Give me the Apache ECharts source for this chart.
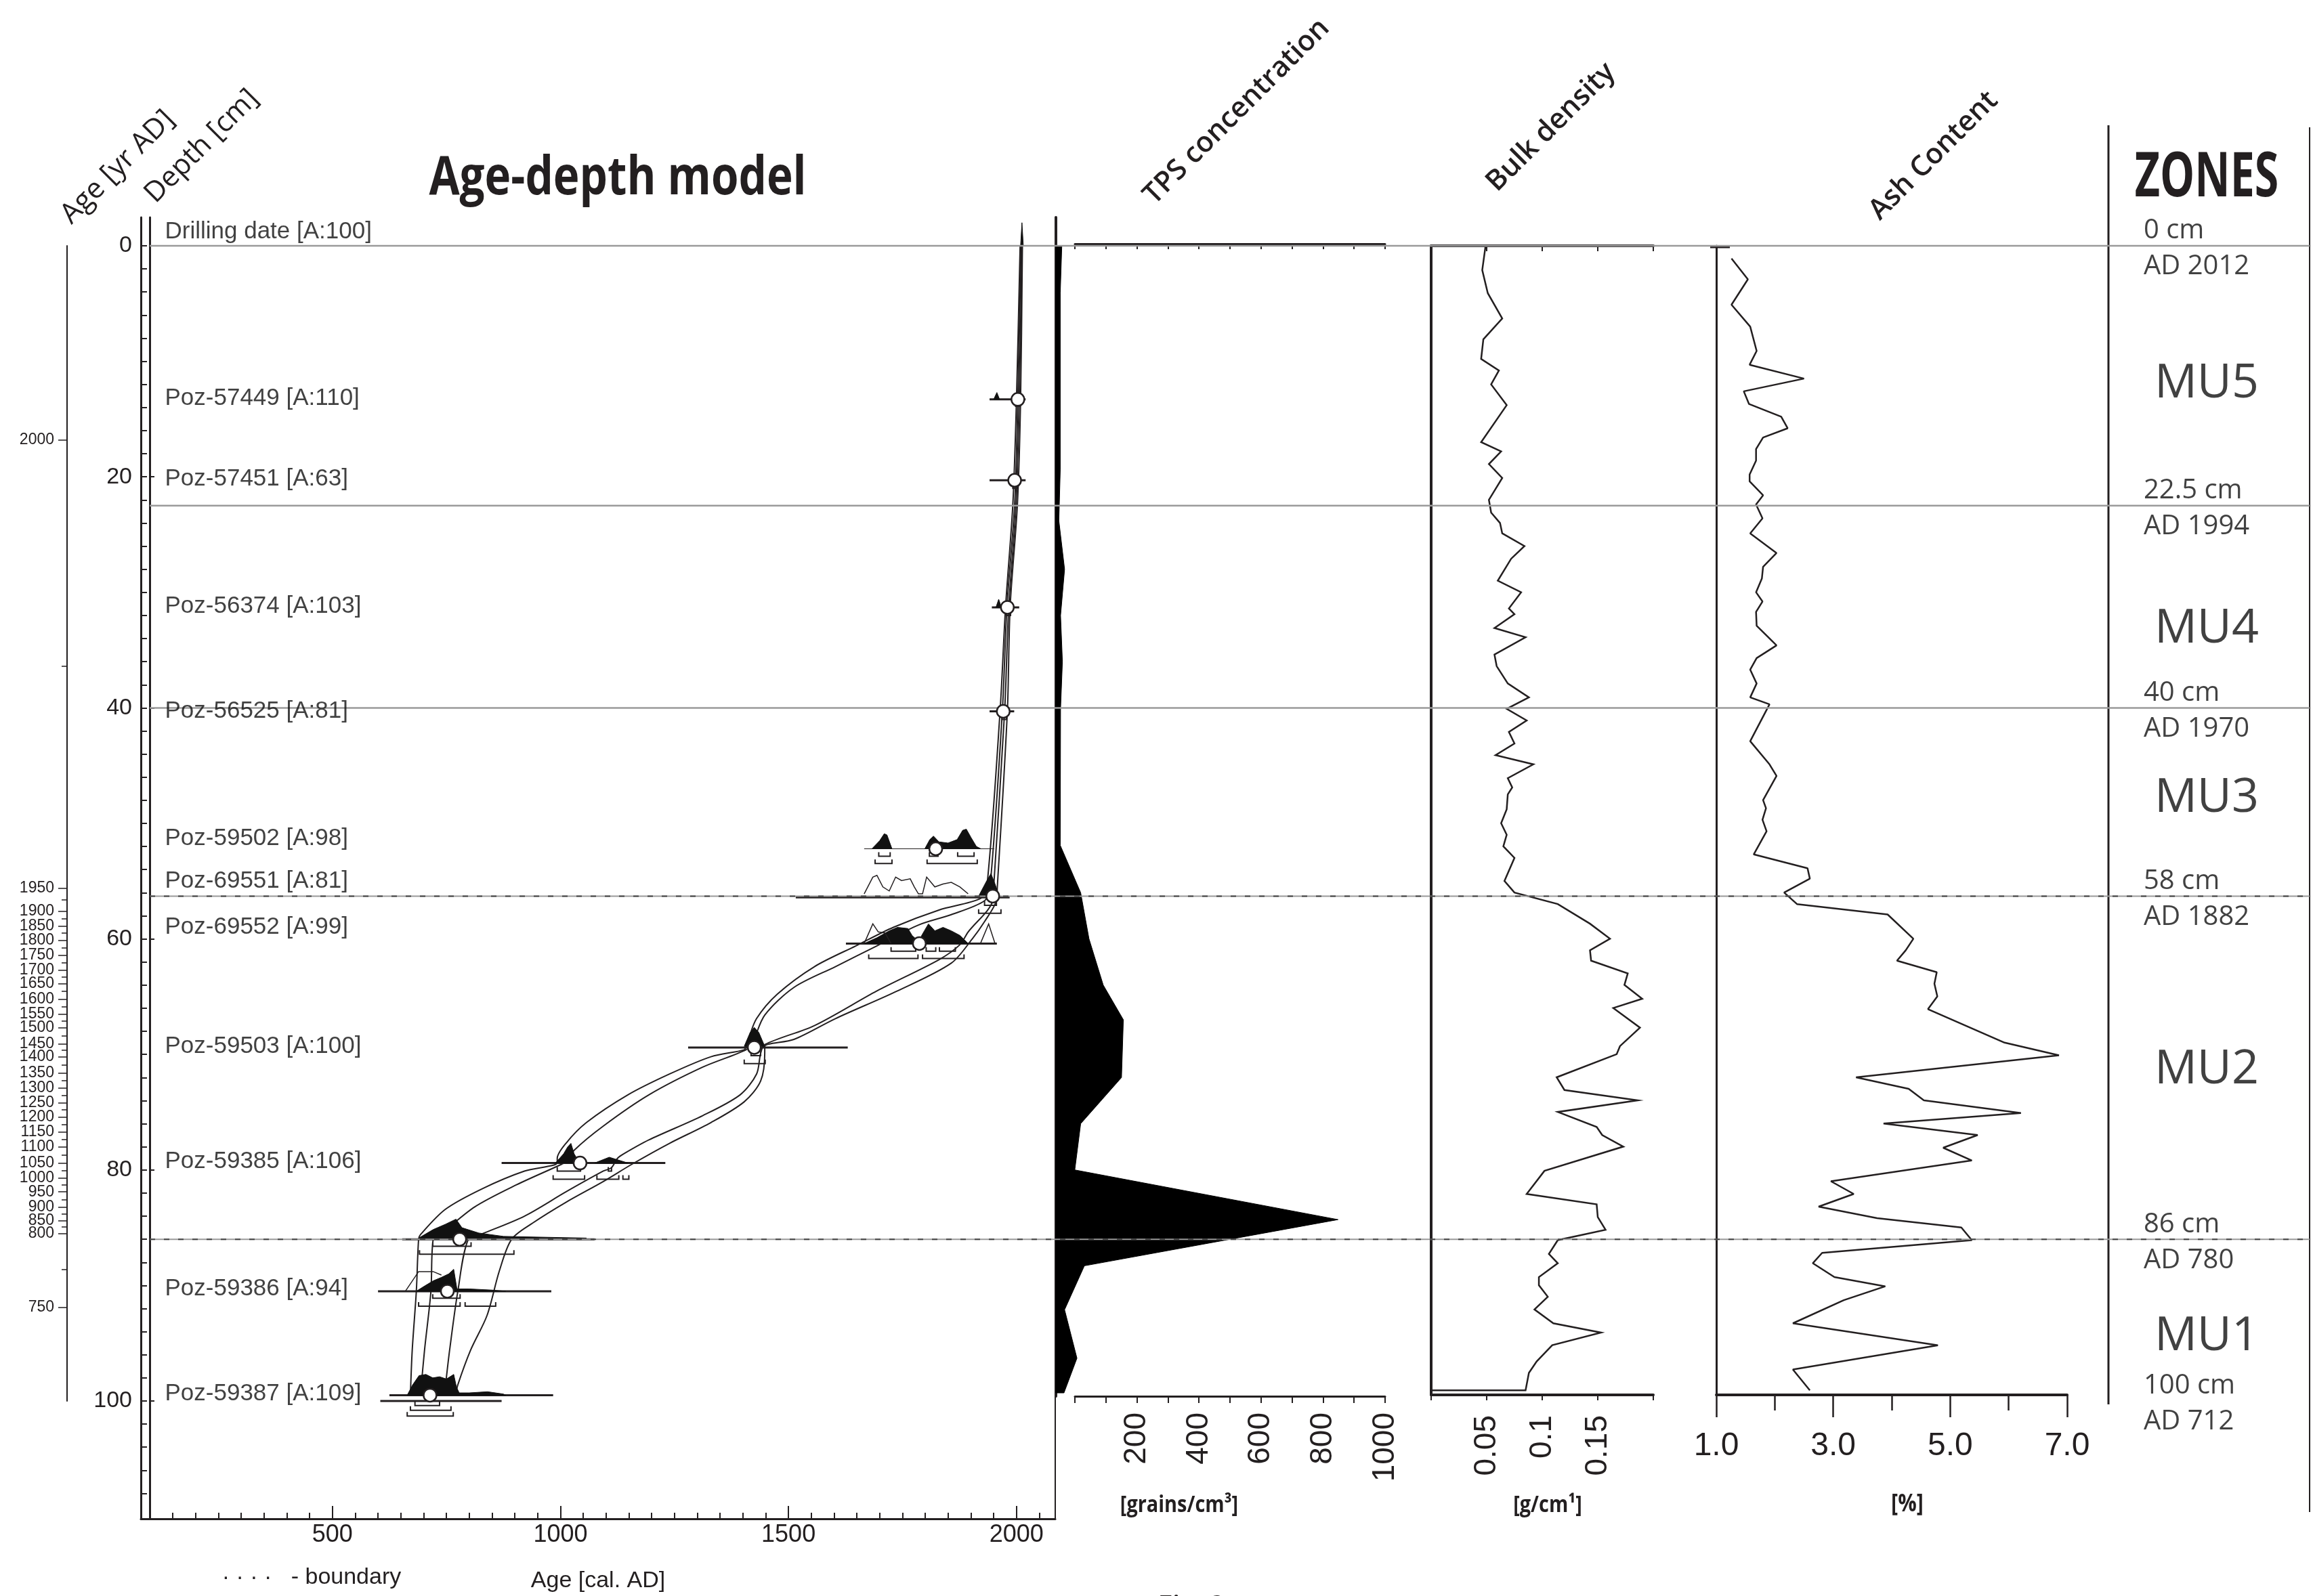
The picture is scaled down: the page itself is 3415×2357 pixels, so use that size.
<!DOCTYPE html>
<html><head><meta charset="utf-8">
<script src="https://cdn.jsdelivr.net/npm/echarts@6/dist/echarts.min.js"></script>
<style>html,body{margin:0;padding:0;background:#fff}#c{width:3415px;height:2357px}</style>
</head><body><div id="c"></div>
<script>
// ================= DATA =================
const depthTickLabels = [0, 20, 40, 60, 80, 100];
const ageTickLabels = [500, 1000, 1500, 2000];

// secondary age scale (Age [yr AD]) : label -> depth position
const leftAgeLabels = [2000,1950,1900,1850,1800,1750,1700,1650,1600,1550,1500,1450,1400,1350,1300,1250,1200,1150,1100,1050,1000,950,900,850,800,750];
const leftAgeDepths = [16.8,55.6,57.6,58.9,60.1,61.4,62.7,63.9,65.2,66.5,67.7,69.1,70.2,71.6,72.9,74.2,75.4,76.7,78.0,79.4,80.7,81.9,83.2,84.4,85.5,91.9];
const leftAgeMinorDepths = [36.4,56.6,58.25,59.5,60.75,62.05,63.3,64.55,65.85,67.1,68.4,69.65,70.9,72.25,73.55,74.8,76.05,77.35,78.7,80.05,81.3,82.55,83.8,84.95,88.6];

// sample labels
const sampleNames = ['Drilling date [A:100]','Poz-57449 [A:110]','Poz-57451 [A:63]','Poz-56374 [A:103]','Poz-56525 [A:81]','Poz-59502 [A:98]','Poz-69551 [A:81]','Poz-69552 [A:99]','Poz-59503 [A:100]','Poz-59385 [A:106]','Poz-59386 [A:94]','Poz-59387 [A:109]'];
const sampleLabelDepths = [-1.2, 13.2, 20.2, 31.2, 40.3, 51.3, 55.0, 59.0, 69.3, 79.3, 90.3, 99.4];

// modelled dates (circles)
const dateAges   = [2003, 1996, 1980, 1971, 1823, 1948, 1787, 1425, 1043, 779, 752, 714];
const dateDepths = [13.3, 20.3, 31.3, 40.3, 52.2, 56.3, 60.4, 69.4, 79.4, 86.0, 90.5, 99.5];

// calibrated ranges (horizontal bars)
const rangeFrom  = [1941, 1941, 1946, 1941, 1516, 1626, 1280, 871, 653, 600, 625, 605];
const rangeTo    = [2020, 2020, 2006, 1995, 1985, 1957, 1630, 1230, 1075, 980, 984, 871];
const rangeDepth = [13.3, 20.3, 31.3, 40.3, 56.4, 60.4, 69.4, 79.4, 86.0, 90.5, 99.5, 100.0];
const thinRangeFrom = [1666], thinRangeTo = [1951], thinRangeDepth = [52.2];

// probability brackets
const bracketFrom  = [1998,1992,1978,1968,1698,1809,1871,1690,1804,1930,1917,1725,1802,1831,1676,1794,1418,1403,993,1105,984,1080,1137,720,691,720,689,791,681,671,664];
const bracketTo    = [2008,2003,1987,1978,1723,1828,1907,1727,1914,1956,1966,1779,1823,1866,1784,1885,1439,1449,1044,1112,1053,1128,1150,804,898,780,780,858,735,760,765];
const bracketDepth = [13.9,21.0,32.0,41.0,52.84,52.84,52.84,53.48,53.48,57.1,57.78,61.07,61.07,61.07,61.7,61.7,70.1,70.8,80.1,80.1,80.8,80.8,80.8,86.6,87.3,91.1,91.8,91.8,100.4,100.8,101.3];

// probability distributions (filled) [age, depth]
const humps = [
  [[2009,0],[2012,-2.0],[2015,0]],
  [[1950,13.3],[1957,12.7],[1963,13.3]],
  [[1955,31.3],[1961,30.6],[1967,31.3]],
  [[1683,52.2],[1700,51.5],[1710,50.9],[1716,51.0],[1727,52.2]],
  [[1799,52.2],[1810,51.4],[1818,51.1],[1830,51.6],[1850,51.7],[1870,51.4],[1882,50.6],[1890,50.5],[1900,51.2],[1912,52.0],[1922,52.2]],
  [[1917,56.3],[1935,54.95],[1944,54.35],[1953,55.25],[1962,56.3]],
  [[1666,60.4],[1694,59.9],[1721,59.3],[1739,59.0],[1762,59.1],[1771,59.7],[1785,60.2],[1798,59.3],[1807,58.7],[1821,59.3],[1839,59.0],[1857,59.3],[1876,59.7],[1894,60.4]],
  [[1403,69.3],[1416,68.1],[1425,67.66],[1435,68.1],[1448,69.3]],
  [[989,79.4],[1007,78.6],[1016,78.0],[1023,77.7],[1030,78.6],[1039,79.2],[1048,79.4]],
  [[1075,79.4],[1107,78.9],[1148,79.4]],
  [[689,85.9],[721,85.16],[748,84.7],[771,84.26],[784,85.0],[821,85.46],[875,85.75],[1057,85.9]],
  [[684,90.5],[700,90.1],[721,89.6],[739,89.3],[755,89.0],[766,88.6],[773,90.3],[800,90.3],[850,90.4],[880,90.5]],
  [[664,99.5],[676,98.6],[690,97.8],[705,97.7],[720,98.0],[735,97.9],[750,98.1],[766,97.7],[772,98.8],[778,99.3],[800,99.3],[840,99.2],[875,99.4],[880,99.5]]
];
// unfilled distribution outlines
const outlines = [
  [[1666,56.1],[1685,54.65],[1694,54.5],[1707,55.5],[1721,55.85],[1735,54.65],[1748,54.95],[1767,54.8],[1776,55.5],[1785,56.1],[1794,56.1],[1803,54.65],[1821,55.5],[1839,55.25],[1857,55.1],[1876,55.5],[1894,56.1]],
  [[1666,60.4],[1685,58.7],[1697,59.4],[1712,59.5],[1725,60.4]],
  [[1921,60.4],[1939,58.7],[1953,60.4]],
  [[660,90.5],[689,88.8],[721,88.8],[739,89.1]]
];

// age-depth model envelope curves [age, depth]
const curve1 = [[2008,0],[2000,13.3],[1992,22.4],[1976,31.3],[1964,40.3],[1935,55.5],[1921,56.5],[1830,57.5],[1730,59.0],[1648,60.6],[1557,62.4],[1475,64.8],[1430,66.9],[1412,68.7],[1407,69.3],[1403,69.6],[1330,70.2],[1239,71.7],[1148,73.5],[1057,75.9],[1012,77.7],[993,79.0],[993,79.4],[921,80.1],[830,81.6],[748,83.4],[693,85.6],[689,86.0],[684,90.5],[675,95.6],[671,99.5]];
const curve2 = [[2010,0],[2003,13.3],[1996,22.4],[1979,31.3],[1969,40.3],[1942,55.5],[1930,56.7],[1857,57.9],[1785,58.8],[1694,60.6],[1603,62.4],[1512,64.2],[1448,66.6],[1421,69.0],[1407,69.6],[1312,71.1],[1194,73.5],[1094,76.2],[1030,78.3],[1016,79.2],[1003,79.5],[903,81.3],[812,83.2],[739,85.5],[721,86.0],[716,90.5],[702,95.6],[693,99.5]];
const curve3 = [[2012,0],[2006,13.3],[1999,22.4],[1983,31.3],[1974,40.3],[1950,55.5],[1948,56.7],[1894,59.4],[1876,60.5],[1830,61.8],[1694,64.5],[1557,67.5],[1448,69.15],[1439,69.9],[1430,71.7],[1394,73.5],[1312,75.3],[1194,77.4],[1139,78.6],[1125,79.0],[1112,79.8],[1094,80.1],[1012,81.9],[921,84.0],[830,85.5],[798,86.0],[775,90.5],[757,95.6],[748,98.6],[745,99.5]];
const curve4 = [[2013,0],[2009,13.3],[2002,22.4],[1986,31.3],[1980,40.3],[1958,55.5],[1955,56.8],[1930,58.5],[1903,60.0],[1857,62.1],[1739,64.5],[1603,66.9],[1512,68.7],[1448,69.3],[1448,69.9],[1439,72.3],[1403,74.1],[1330,75.9],[1239,77.7],[1157,79.5],[1094,81.0],[1012,82.8],[939,84.6],[893,86.0],[866,88.75],[839,92.6],[803,95.6],[775,98.6],[770,99.5]];

// TPS concentration [grains/cm3]
const tpsDepths = [0, 4.1, 19.4, 23.8, 28.0, 32.0, 36.0, 40.1, 51.9, 56.0, 60.0, 64.0, 67.0, 72.0, 76.0, 80.0, 84.3, 88.3, 92.1, 96.3, 99.3];
const tpsValues = [19, 14, 14, 9.5, 28, 15, 21, 15, 14, 80, 107, 153, 218, 212, 80, 61, 912, 92, 28, 68, 26];

// Bulk density [g/cm]
const bulkDepths = [0,2.1,4.1,6.3,8.1,9.8,10.8,12.0,13.8,17.0,17.8,18.9,20.1,22.0,23.1,24.0,24.9,26.0,27.1,29.0,30.0,31.4,31.9,33.1,33.9,35.4,36.4,37.9,39.1,40.1,41.1,42.1,43.1,44.1,44.9,46.1,46.9,47.5,48.8,50.0,51.0,52.0,53.0,55.0,56.0,57.0,58.7,60.0,61.0,61.9,63.0,64.0,65.2,66.0,67.7,69.3,70.0,72.0,73.1,74.0,75.0,76.3,77.0,78.0,80.1,82.1,83.0,84.1,85.2,86.1,87.3,88.1,89.3,90.0,91.0,92.1,93.3,94.1,95.2,96.6,97.6,99.1];
const bulkValues = [0.049,0.046,0.051,0.064,0.047,0.045,0.061,0.054,0.068,0.045,0.063,0.052,0.064,0.052,0.054,0.062,0.064,0.084,0.072,0.060,0.081,0.070,0.075,0.057,0.085,0.057,0.059,0.069,0.088,0.068,0.086,0.070,0.075,0.058,0.092,0.069,0.073,0.069,0.068,0.063,0.068,0.065,0.075,0.066,0.075,0.114,0.143,0.161,0.143,0.144,0.177,0.174,0.190,0.164,0.188,0.170,0.167,0.113,0.120,0.186,0.114,0.149,0.154,0.173,0.102,0.086,0.149,0.150,0.157,0.114,0.106,0.114,0.097,0.097,0.105,0.093,0.110,0.153,0.109,0.095,0.088,0.085];

// Ash content [%]
const ashDepths = [1.1,2.9,5.1,7.0,9.1,10.3,11.5,12.6,13.7,14.8,15.8,16.6,17.6,18.6,19.8,20.4,21.6,22.4,23.6,24.9,26.6,27.8,28.8,30.0,30.8,31.7,32.9,33.9,34.6,35.7,36.7,37.9,39.1,39.7,42.9,44.9,45.9,48.0,48.7,49.7,50.7,52.7,53.9,54.8,56.0,57.0,57.9,60.0,61.0,61.9,62.9,63.9,65.0,66.1,69.0,70.1,72.0,73.0,74.0,75.1,76.0,77.0,78.1,79.2,81.0,82.1,83.2,84.2,85.0,86.1,87.2,88.1,89.3,90.1,91.3,93.3,95.2,97.3,99.1];
const ashValues = [1.26,1.54,1.26,1.58,1.69,1.57,2.50,1.47,1.56,2.11,2.22,1.80,1.68,1.68,1.57,1.57,1.80,1.68,1.79,1.58,2.03,1.80,1.78,1.68,1.79,1.68,1.69,1.89,2.03,1.69,1.58,1.69,1.58,1.91,1.58,1.91,2.03,1.80,1.85,1.79,1.86,1.64,2.56,2.60,2.16,2.38,3.93,4.37,4.24,4.09,4.77,4.73,4.78,4.62,5.93,6.86,3.39,4.29,4.55,6.21,3.86,5.47,4.88,5.37,2.96,3.35,2.75,3.75,5.19,5.37,2.81,2.65,3.02,3.89,3.18,2.31,4.79,2.31,2.60];

// zones
const zoneNames = ['MU5','MU4','MU3','MU2','MU1'];
const zoneNameDepths = [11.6, 32.8, 47.5, 71.0, 94.1];
const boundaryDepths = [0, 22.5, 40, 56.3, 86, 100];
const boundaryCm = ['0 cm','22.5 cm','40 cm','58 cm','86 cm','100 cm'];
const boundaryAD = ['AD 2012','AD 1994','AD 1970','AD 1882','AD 780','AD 712'];
const solidLines = [0, 22.5, 40];
const dashedLines = [56.3, 86];

// ================= LAYOUT / STYLE =================
const T = '#231f20';
const ARIAL = "'Liberation Sans', Arial, sans-serif";
const NARROW = "'Liberation Sans Narrow', 'Liberation Sans', Arial, sans-serif";
const MYR = "'Open Sans', 'Noto Sans', sans-serif";
const AGE_MIN = 80, AGE_MAX = 2085;
const D_MIN = -2.46, D_MAX = 110.2;

const ageMinorTicks = []; for (let a = 100; a <= 2050; a += 50) ageMinorTicks.push(a);
const depthMinorTicks = []; for (let d = 0; d <= 108; d += 2) depthMinorTicks.push(d);

const noSplit = {show:false};
function lineOnly(w){ return {show:true, onZero:false, lineStyle:{color:T, width:w}}; }
function hiddenX(grid, min, max){ return {type:'value', gridIndex:grid, min, max, show:false, splitLine:noSplit}; }

const grids = [
  {left:208, top:321, width:1350, height:1922},   // 0 age-depth
  {left:99, top:363, width:20, height:1706},      // 1 far-left age scale
  {left:1559, top:321, width:486, height:1741},   // 2 TPS data
  {left:1587, top:360, width:458, height:1702},   // 3 TPS axes
  {left:2113, top:363, width:328, height:1697},   // 4 bulk density
  {left:2534, top:363, width:518, height:1697},   // 5 ash
  {left:221, top:363, width:3189, height:1706}    // 6 overlay (boundaries, zones)
].map(g => Object.assign({containLabel:false, outerBoundsMode:'none', show:false}, g));

const xAxes = [
  {type:'value', gridIndex:0, position:'bottom', min:AGE_MIN, max:AGE_MAX, axisLine:lineOnly(3),
   axisTick:{show:true, inside:true, length:9, customValues:ageMinorTicks, lineStyle:{color:T,width:2}},
   axisLabel:{show:true, customValues:ageTickLabels, margin:6, color:T, fontFamily:ARIAL, fontSize:36, formatter:v => String(v)},
   splitLine:noSplit},
  {type:'value', gridIndex:0, position:'bottom', min:AGE_MIN, max:AGE_MAX, axisLine:{show:false, onZero:false},
   axisTick:{show:true, inside:true, length:19, customValues:ageTickLabels, lineStyle:{color:T,width:2}},
   axisLabel:{show:false}, splitLine:noSplit},
  hiddenX(1, 0, 1),
  hiddenX(2, 0, 1064),
  {type:'value', gridIndex:3, position:'bottom', min:0, max:1000, interval:100, axisLine:lineOnly(3),
   axisTick:{show:true, inside:false, length:10, lineStyle:{color:T,width:2}},
   axisLabel:{show:true, rotate:90, margin:24, color:T, fontFamily:NARROW, fontSize:46,
     formatter:v => (v > 0 && v % 200 === 0) ? String(v) : ''},
   splitLine:noSplit},
  {type:'value', gridIndex:3, position:'top', min:0, max:1000, interval:100, axisLine:lineOnly(3),
   axisTick:{show:true, inside:true, length:8, lineStyle:{color:T,width:2}}, axisLabel:{show:false}, splitLine:noSplit},
  {type:'value', gridIndex:4, position:'bottom', min:0, max:0.2, interval:0.05, axisLine:lineOnly(4),
   axisTick:{show:true, inside:false, length:8, lineStyle:{color:T,width:2}},
   axisLabel:{show:true, rotate:90, margin:30, color:T, fontFamily:NARROW, fontSize:46,
     formatter:v => { const r = Math.round(v*100); return r===5?'0.05':r===10?'0.1':r===15?'0.15':''; }},
   splitLine:noSplit},
  {type:'value', gridIndex:4, position:'top', min:0, max:0.2, interval:0.05, axisLine:lineOnly(4),
   axisTick:{show:true, inside:true, length:8, lineStyle:{color:T,width:2}}, axisLabel:{show:false}, splitLine:noSplit},
  {type:'value', gridIndex:5, position:'bottom', min:1, max:7, interval:2, axisLine:lineOnly(4),
   axisTick:{show:true, inside:false, length:33, lineStyle:{color:T,width:2.5}},
   axisLabel:{show:true, margin:52, color:T, fontFamily:NARROW, fontSize:48, formatter:v => v.toFixed(1)},
   splitLine:noSplit},
  {type:'value', gridIndex:5, position:'bottom', min:1, max:7, interval:1, axisLine:{show:false, onZero:false},
   axisTick:{show:true, inside:false, length:23, lineStyle:{color:T,width:2.5}}, axisLabel:{show:false}, splitLine:noSplit},
  hiddenX(6, 0, 1)
];

const yAxes = [
  {type:'value', gridIndex:0, position:'left', offset:-13, inverse:true, min:D_MIN, max:D_MAX, axisLine:lineOnly(3),
   axisTick:{show:true, inside:true, length:7, customValues:depthTickLabels, lineStyle:{color:T,width:2}},
   axisLabel:{show:true, customValues:depthTickLabels, margin:26, color:T, fontFamily:ARIAL, fontSize:34},
   splitLine:noSplit},
  {type:'value', gridIndex:0, position:'left', offset:0, inverse:true, min:D_MIN, max:D_MAX, axisLine:lineOnly(3),
   axisTick:{show:true, inside:true, length:9, customValues:depthMinorTicks, lineStyle:{color:T,width:2}},
   axisLabel:{show:false}, splitLine:noSplit},
  {type:'value', gridIndex:0, position:'right', inverse:true, min:D_MIN, max:D_MAX, axisLine:lineOnly(2),
   axisTick:{show:false}, axisLabel:{show:false}, splitLine:noSplit},
  {type:'value', gridIndex:1, position:'left', inverse:true, min:0, max:100, axisLine:lineOnly(2),
   axisTick:{show:true, inside:false, length:13, customValues:leftAgeDepths, lineStyle:{color:T,width:1.5}},
   axisLabel:{show:true, customValues:leftAgeDepths, margin:19, color:T, fontFamily:ARIAL, fontSize:23, hideOverlap:false,
     formatter:v => { const i = leftAgeDepths.findIndex(d => Math.abs(d - v) < 1e-6); return i >= 0 ? String(leftAgeLabels[i]) : ''; }},
   splitLine:noSplit},
  {type:'value', gridIndex:1, position:'left', inverse:true, min:0, max:100, axisLine:{show:false, onZero:false},
   axisTick:{show:true, inside:false, length:8, customValues:leftAgeMinorDepths, lineStyle:{color:T,width:1.5}},
   axisLabel:{show:false}, splitLine:noSplit},
  {type:'value', gridIndex:2, position:'left', inverse:true, min:D_MIN, max:D_MIN + 1741/17.06, axisLine:lineOnly(4),
   axisTick:{show:false}, axisLabel:{show:false}, splitLine:noSplit},
  {type:'value', gridIndex:3, min:0, max:1, show:false, splitLine:noSplit},
  {type:'value', gridIndex:4, position:'left', inverse:true, min:0, max:99.5, axisLine:lineOnly(4),
   axisTick:{show:false}, axisLabel:{show:false}, splitLine:noSplit},
  {type:'value', gridIndex:5, position:'left', inverse:true, min:0, max:99.5, axisLine:lineOnly(3),
   axisTick:{show:false}, axisLabel:{show:false}, splitLine:noSplit},
  {type:'value', gridIndex:6, inverse:true, min:0, max:100, show:false, splitLine:noSplit}
];

function polySeries(list, xi, yi, style, z){
  return {type:'custom', coordinateSystem:'cartesian2d', xAxisIndex:xi, yAxisIndex:yi, silent:true, z:z,
    data: list.map(p => p[0]), encode:{x:0, y:1},
    renderItem:(params, api) => {
      const pts = list[params.dataIndex].map(p => api.coord(p));
      return {type:'polygon', shape:{points:pts}, style:style};
    }};
}
function polyLineSeries(list, xi, yi, style, z){
  return {type:'custom', coordinateSystem:'cartesian2d', xAxisIndex:xi, yAxisIndex:yi, silent:true, z:z,
    data: list.map(p => p[0]), encode:{x:0, y:1},
    renderItem:(params, api) => {
      const pts = list[params.dataIndex].map(p => api.coord(p));
      return {type:'polyline', shape:{points:pts}, style:style};
    }};
}
function rangeSeries(from, to, dep, width, z){
  return {type:'custom', coordinateSystem:'cartesian2d', xAxisIndex:0, yAxisIndex:0, silent:true, z:z,
    data: from.map((a,i) => [a, dep[i]]), encode:{x:0, y:1},
    renderItem:(params, api) => {
      const i = params.dataIndex;
      const p0 = api.coord([from[i], dep[i]]), p1 = api.coord([to[i], dep[i]]);
      return {type:'line', shape:{x1:p0[0], y1:p0[1], x2:p1[0], y2:p1[1]}, style:{stroke:T, lineWidth:width}};
    }};
}

const series = [];
// envelope
[curve1, curve2, curve3, curve4].forEach(c => series.push({type:'line', xAxisIndex:0, yAxisIndex:0, data:c, smooth:0.3,
  symbol:'none', silent:true, lineStyle:{color:T, width:2}, z:3}));
// ranges
series.push(rangeSeries(rangeFrom, rangeTo, rangeDepth, 3, 4));
series.push(rangeSeries(thinRangeFrom, thinRangeTo, thinRangeDepth, 1, 4));
// brackets
series.push({type:'custom', coordinateSystem:'cartesian2d', xAxisIndex:0, yAxisIndex:0, silent:true, z:4,
  data: bracketFrom.map((a,i) => [a, bracketDepth[i]]), encode:{x:0, y:1},
  renderItem:(params, api) => {
    const i = params.dataIndex;
    const p0 = api.coord([bracketFrom[i], bracketDepth[i]]), p1 = api.coord([bracketTo[i], bracketDepth[i]]);
    return {type:'polyline', shape:{points:[[p0[0], p0[1]-6],[p0[0], p0[1]],[p1[0], p1[1]],[p1[0], p1[1]-6]]},
      style:{stroke:T, lineWidth:2, fill:null}};
  }});
// distributions
series.push(polySeries(humps, 0, 0, {fill:'#111', stroke:'#111', lineWidth:1}, 5));
series.push(polyLineSeries(outlines, 0, 0, {fill:null, stroke:T, lineWidth:1.5}, 5));
// date circles
series.push({type:'scatter', xAxisIndex:0, yAxisIndex:0, silent:true, z:20,
  data: dateAges.map((a,i) => [a, dateDepths[i]]), symbol:'circle', symbolSize:19,
  itemStyle:{color:'#fff', borderColor:T, borderWidth:2.5, opacity:1}});
// sample labels
series.push({type:'scatter', xAxisIndex:0, yAxisIndex:0, silent:true, z:20,
  data: sampleLabelDepths.map(d => [AGE_MIN, d]), symbolSize:1, itemStyle:{color:'rgba(0,0,0,0)'},
  label:{show:true, position:'right', distance:35, formatter:p => sampleNames[p.dataIndex], color:'#111', fontFamily:ARIAL, fontSize:35}});
// TPS
series.push({type:'custom', coordinateSystem:'cartesian2d', xAxisIndex:3, yAxisIndex:5, silent:true, z:2,
  data: tpsValues.map((v,i) => [v, tpsDepths[i]]), encode:{x:0, y:1},
  renderItem:(params, api) => {
    if (params.dataIndex !== 0) return null;
    const pts = [[0, tpsDepths[0]]].concat(tpsValues.map((v,i) => [v, tpsDepths[i]]), [[0, tpsDepths[tpsDepths.length-1]]]).map(p => api.coord(p));
    return {type:'polygon', shape:{points:pts}, style:{fill:'#000', stroke:'#000', lineWidth:1}};
  }});
// Bulk density
series.push({type:'custom', coordinateSystem:'cartesian2d', xAxisIndex:6, yAxisIndex:7, silent:true, z:3,
  data: bulkValues.map((v,i) => [v, bulkDepths[i]]), encode:{x:0, y:1},
  renderItem:(params, api) => {
    if (params.dataIndex !== 0) return null;
    const pts = [[0, bulkDepths[0]]].concat(bulkValues.map((v,i) => [v, bulkDepths[i]]), [[0, bulkDepths[bulkDepths.length-1]]]).map(p => api.coord(p));
    return {type:'polygon', shape:{points:pts}, style:{fill:null, stroke:T, lineWidth:2.5}};
  }});
// Ash
series.push({type:'line', xAxisIndex:8, yAxisIndex:8, data: ashValues.map((v,i) => [v, ashDepths[i]]),
  symbol:'none', silent:true, lineStyle:{color:T, width:2.5}, z:3});
// boundaries
series.push({type:'custom', coordinateSystem:'cartesian2d', xAxisIndex:10, yAxisIndex:9, silent:true, z:10,
  data: solidLines.map(d => [0, d]), encode:{x:0, y:1},
  renderItem:(params, api) => {
    const d = solidLines[params.dataIndex];
    const p0 = api.coord([0, d]), p1 = api.coord([1, d]);
    return {type:'line', shape:{x1:p0[0], y1:p0[1], x2:p1[0], y2:p1[1]}, style:{stroke:'#9a9a9a', lineWidth:2.5}};
  }});
series.push({type:'custom', coordinateSystem:'cartesian2d', xAxisIndex:10, yAxisIndex:9, silent:true, z:10,
  data: dashedLines.map(d => [0, d]), encode:{x:0, y:1},
  renderItem:(params, api) => {
    const d = dashedLines[params.dataIndex];
    const p0 = api.coord([0, d]), p1 = api.coord([1, d]);
    return {type:'group', children:[
      {type:'line', shape:{x1:p0[0], y1:p0[1], x2:p1[0], y2:p1[1]}, style:{stroke:'#9a9a9a', lineWidth:2}},
      {type:'line', shape:{x1:p0[0], y1:p0[1], x2:p1[0], y2:p1[1]}, style:{stroke:'#444', lineWidth:2, lineDash:[8,13]}}
    ]};
  }});
// zone labels
const ZX = 0.923, MX = 0.928;
series.push({type:'scatter', xAxisIndex:10, yAxisIndex:9, silent:true, z:20,
  data: boundaryDepths.map(d => [ZX, d]), symbolSize:1, itemStyle:{color:'rgba(0,0,0,0)'},
  label:{show:true, position:'right', distance:0, offset:[0,-22], formatter:p => boundaryCm[p.dataIndex], color:'#111', fontFamily:MYR, fontSize:40}});
series.push({type:'scatter', xAxisIndex:10, yAxisIndex:9, silent:true, z:20,
  data: boundaryDepths.map(d => [ZX, d]), symbolSize:1, itemStyle:{color:'rgba(0,0,0,0)'},
  label:{show:true, position:'right', distance:0, offset:[0,31], formatter:p => boundaryAD[p.dataIndex], color:'#111', fontFamily:MYR, fontSize:40}});
series.push({type:'scatter', xAxisIndex:10, yAxisIndex:9, silent:true, z:20,
  data: zoneNameDepths.map(d => [MX, d]), symbolSize:1, itemStyle:{color:'rgba(0,0,0,0)'},
  label:{show:true, position:'right', distance:0, offset:[0,6], formatter:p => zoneNames[p.dataIndex], color:'#111', fontFamily:MYR, fontSize:70}});

// ================= GRAPHIC TEXTS =================
function txt(x, y, text, o){
  return {type:'text', x:x, y:y, rotation:o.rot || 0, scaleX:o.sx || 1, z:100, silent:true,
    style:{text:text, fill:T, fontSize:o.size, fontFamily:o.family || MYR, fontWeight:o.weight || 'normal',
      textAlign:o.align || 'center', textVerticalAlign:'middle', align:o.align || 'center', verticalAlign:'middle'}};
}
const R45 = Math.PI / 4;
const graphics = [
  txt(912, 265, 'Age-depth model', {size:78, weight:'bold', sx:0.84}),
  txt(3258, 264, 'ZONES', {size:92, weight:'bold', sx:0.7}),
  txt(174, 247, 'Age [yr AD]', {size:42, rot:R45}),
  txt(298, 216, 'Depth [cm]', {size:42, rot:R45}),
  txt(1826, 165, 'TPS concentration', {size:42, weight:600, rot:R45}),
  txt(2290, 188, 'Bulk density', {size:42, weight:600, rot:R45}),
  txt(2855, 230, 'Ash Content', {size:42, weight:600, rot:R45}),
  txt(1741, 2223, '[grains/cm³]', {size:34, weight:'bold', sx:0.85}),
  txt(2285, 2223, '[g/cm¹]', {size:34, weight:'bold', sx:0.85}),
  txt(2816, 2222, '[%]', {size:36, weight:'bold', sx:0.85}),
  txt(883, 2335, 'Age [cal. AD]', {size:34, family:ARIAL}),
  txt(460, 2330, '· · · ·   - boundary', {size:34, family:ARIAL}),
  txt(1759, 2374, 'Fig. 2', {size:40, weight:600}),
  {type:'line', silent:true, shape:{x1:3113, y1:185, x2:3113, y2:2074}, style:{stroke:T, lineWidth:3}},
  {type:'line', silent:true, shape:{x1:3410, y1:188, x2:3410, y2:2233}, style:{stroke:T, lineWidth:2}},
  {type:'line', silent:true, shape:{x1:2525, y1:365, x2:2554, y2:365}, style:{stroke:T, lineWidth:3}}
];

const chart = echarts.init(document.getElementById('c'), null, {renderer:'canvas', width:3415, height:2357});
chart.setOption({
  animation:false, backgroundColor:'#ffffff',
  grid:grids, xAxis:xAxes, yAxis:yAxes, series:series,
  graphic:{elements:graphics}
});
</script></body></html>
